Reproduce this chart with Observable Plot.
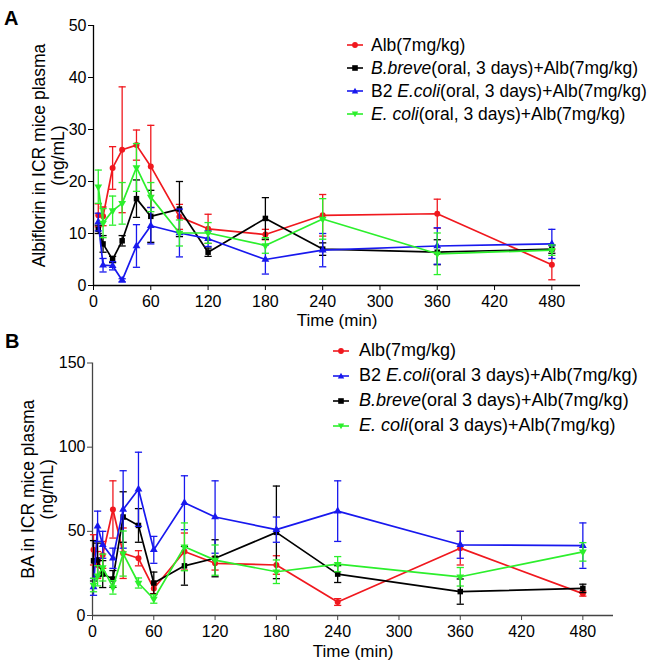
<!DOCTYPE html>
<html><head><meta charset="utf-8">
<script src="https://cdn.jsdelivr.net/npm/d3@7"></script>
<script src="https://cdn.jsdelivr.net/npm/@observablehq/plot@0.6"></script>
<style>
body{margin:0;background:#fff;font-family:"Liberation Sans",Arial,sans-serif;}
#wrap{position:relative;width:650px;height:664px;overflow:hidden;}
.panel{position:absolute;left:0;}
.letter{position:absolute;font-weight:bold;font-size:20px;line-height:1;}
.legend{position:absolute;color:#000;}
.row{display:flex;align-items:center;white-space:nowrap;}
</style></head><body><div id="wrap"></div><script>
// ---------- Data ----------
const xTicks = [0, 60, 120, 180, 240, 300, 360, 420, 480];
const yTicksA = [0, 10, 20, 30, 40, 50];
const yTicksB = [0, 50, 100, 150];

// Panel A: Albiflorin
const timesA = [5, 10, 20, 30, 45, 60, 90, 120, 180, 240, 360, 480];
const albA      = [13.5, 13.3, 22.6, 26.1, 27.0, 22.9, 13.2, 10.9, 9.8, 13.5, 13.8, 4.0];
const albA_sd   = [2.2, 1.8, 4.1, 12.1, 2.9, 7.9, 2.4, 2.8, 1.0, 4.0, 2.8, 2.9];
const breveA    = [10.8, 8.0, 5.0, 8.6, 16.7, 13.3, 14.7, 6.4, 12.9, 7.0, 6.4, 7.0];
const breveA_sd = [0.8, 1.6, 0.6, 1.0, 3.6, 5.0, 5.3, 0.8, 4.0, 1.2, 2.4, 0.8];
const b2A       = [12.2, 3.9, 3.8, 1.0, 7.6, 11.5, 10.1, 9.0, 5.0, 6.8, 7.6, 8.0];
const b2A_sd    = [1.7, 1.3, 0.8, 0.3, 4.1, 3.5, 4.6, 1.5, 2.8, 3.2, 3.5, 2.8];
const ecoliA    = [19.0, 12.0, 14.4, 15.8, 22.7, 17.0, 10.1, 10.1, 7.7, 12.8, 6.1, 6.8];
const ecoliA_sd = [3.2, 2.8, 2.8, 4.0, 4.6, 2.8, 2.5, 2.0, 1.5, 3.9, 4.0, 1.0];

// Panel B: BA
const timesB = [1, 5, 10, 20, 30, 45, 60, 90, 120, 180, 240, 360, 480];
const albB      = [39, 30, 36, 63, 37, 34, 16, 38, 31, 30, 8, 40, 13];
const albB_sd   = [9, 8, 8, 17, 15, 4.5, 3, 11, 4, 5.5, 2, 10, 1.5];
const b2B       = [17, 53, 42, 34, 63, 75, 39, 67, 58.5, 51, 62, 42, 41.5];
const b2B_sd    = [5, 9, 8, 6, 23, 22, 8, 16, 21.5, 7.5, 18, 8, 13.5];
const breveB    = [32.5, 33, 24.6, 21.7, 58.5, 53.5, 19.3, 29.5, 34, 49.4, 24.6, 14.2, 16.1];
const breveB_sd = [12, 10, 8, 5, 15, 10, 6.5, 11.5, 11, 27.5, 5, 7.5, 2.5];
const ecoliB    = [18.1, 23.6, 28.5, 16.7, 36.8, 19.3, 9.8, 40.8, 32.9, 26, 30.5, 23, 37.8];
const ecoliB_sd = [4, 6, 8, 4, 13.4, 3, 2.5, 14.2, 9, 7, 4.5, 5.5, 5.5];

const RED = "#f0181e", BLACK = "#000000", BLUE = "#1818ee", GREEN = "#2cef2c";

// ---------- Helpers ----------
const capSymbol = {draw(ctx) { ctx.moveTo(-3.6, 0); ctx.lineTo(3.6, 0); }};
const FONT = '"Liberation Sans", Arial, sans-serif';

function rowsOf(times, vals, sds) {
  return times.map((t, i) => ({t, v: vals[i], lo: vals[i] - sds[i], hi: vals[i] + sds[i]}));
}

function seriesMarks(s) {
  const rows = rowsOf(s.times, s.vals, s.sds);
  return [
    Plot.ruleX(rows, {x: "t", y1: "lo", y2: "hi", stroke: s.color, strokeWidth: 1.3}),
    Plot.dot(rows, {x: "t", y: "lo", symbol: capSymbol, stroke: s.color, fill: "none", strokeWidth: 1.3}),
    Plot.dot(rows, {x: "t", y: "hi", symbol: capSymbol, stroke: s.color, fill: "none", strokeWidth: 1.3}),
    Plot.line(rows, {x: "t", y: "v", stroke: s.color, strokeWidth: 1.7}),
    Plot.dot(rows, {x: "t", y: "v", symbol: s.symbol, rotate: s.rotate || 0, fill: s.color, stroke: "none", r: s.r})
  ];
}

function makePanel(o) {
  return Plot.plot({
    width: 650, height: o.height,
    marginLeft: o.ml, marginRight: o.mr, marginTop: o.mt, marginBottom: o.mb,
    style: {fontFamily: FONT, fontSize: "16px", color: "#000", background: "transparent", overflow: "visible"},
    x: {domain: [0, 510]},
    y: {domain: o.yDomain},
    marks: [
      Plot.axisX({ticks: xTicks, tickSize: 5, tickPadding: 5, label: null, stroke: o.axisColor, fill: "#000", fontSize: 16}),
      Plot.axisY({ticks: o.yTicks, tickSize: 5, tickPadding: 2, label: null, stroke: o.axisColor, fill: "#000", fontSize: 16}),
      Plot.ruleY([o.yDomain[0]], {stroke: o.axisColor, strokeWidth: 1.3}),
      Plot.ruleX([0], {stroke: o.axisColor, strokeWidth: 1.3}),
      ...o.series.flatMap(seriesMarks),
      Plot.text([o.yLabel], {text: d => d, frameAnchor: "left", dx: o.yLabelDx, rotate: -90, fontSize: 17.5, lineHeight: 1.1, textAnchor: "middle", lineAnchor: "middle", fill: "#000"}),
      Plot.text(["Time (min)"], {text: d => d, frameAnchor: "bottom", dy: o.xLabelDy, fontSize: 17, lineAnchor: "middle", fill: "#000"})
    ]
  });
}

function markerSVG(color, symbol) {
  let shape = "";
  if (symbol === "circle") shape = `<circle cx="8" cy="5" r="2.9" fill="${color}"/>`;
  else if (symbol === "square") shape = `<rect x="5.2" y="2.2" width="5.6" height="5.6" fill="${color}"/>`;
  else if (symbol === "up") shape = `<path d="M8,1.8 L11.2,7.6 L4.8,7.6 Z" fill="${color}"/>`;
  else shape = `<path d="M8,8.2 L11.2,2.4 L4.8,2.4 Z" fill="${color}"/>`;
  return `<svg width="16" height="10" style="flex:none"><line x1="0" y1="5" x2="16" y2="5" stroke="${color}" stroke-width="1.6"/>${shape}</svg>`;
}

function legend(entries, left, top, rowH, gap, fontSize) {
  const d = document.createElement("div");
  d.className = "legend";
  d.style.left = left + "px"; d.style.top = top + "px"; d.style.fontSize = fontSize + "px";
  d.innerHTML = entries.map(e =>
    `<div class="row" style="height:${rowH}px">${markerSVG(e.color, e.shape)}<span style="margin-left:${gap}px">${e.html}</span></div>`
  ).join("");
  return d;
}

const wrap = document.getElementById("wrap");

// ---------- Panel A ----------
const seriesA = [
  {times: timesA, vals: albA, sds: albA_sd, color: RED, symbol: "circle", r: 3},
  {times: timesA, vals: breveA, sds: breveA_sd, color: BLACK, symbol: "square", r: 3.1},
  {times: timesA, vals: b2A, sds: b2A_sd, color: BLUE, symbol: "triangle", r: 2.9},
  {times: timesA, vals: ecoliA, sds: ecoliA_sd, color: GREEN, symbol: "triangle", rotate: 180, r: 2.9}
];
const plotA = makePanel({
  height: 325, ml: 93, mr: 70, mt: 25, mb: 40, yDomain: [0, 50], yTicks: yTicksA,
  axisColor: "#000", series: seriesA,
  yLabel: "Albiflorin in ICR mice plasma\n(ng/mL)", yLabelDx: -45, xLabelDy: 35
});
const pa = document.createElement("div"); pa.className = "panel"; pa.style.top = "0px";
pa.appendChild(plotA); wrap.appendChild(pa);

// ---------- Panel B ----------
const seriesB = [
  {times: timesB, vals: albB, sds: albB_sd, color: RED, symbol: "circle", r: 3},
  {times: timesB, vals: breveB, sds: breveB_sd, color: BLACK, symbol: "square", r: 3.1},
  {times: timesB, vals: b2B, sds: b2B_sd, color: BLUE, symbol: "triangle", r: 2.9},
  {times: timesB, vals: ecoliB, sds: ecoliB_sd, color: GREEN, symbol: "triangle", rotate: 180, r: 2.9}
];
const plotB = makePanel({
  height: 339, ml: 92, mr: 37, mt: 37.5, mb: 49, yDomain: [0, 150], yTicks: yTicksB,
  axisColor: "#444", series: seriesB,
  yLabel: "BA in ICR mice plasma\n(ng/mL)", yLabelDx: -55, xLabelDy: 36
});
const pb = document.createElement("div"); pb.className = "panel"; pb.style.top = "325px";
pb.appendChild(plotB); wrap.appendChild(pb);

// ---------- Panel letters ----------
const la = document.createElement("div"); la.className = "letter"; la.textContent = "A";
la.style.left = "4px"; la.style.top = "8px"; wrap.appendChild(la);
const lb = document.createElement("div"); lb.className = "letter"; lb.textContent = "B";
lb.style.left = "5px"; lb.style.top = "331px"; wrap.appendChild(lb);

// ---------- Legends ----------
wrap.appendChild(legend([
  {color: RED, shape: "circle", html: "Alb(7mg/kg)"},
  {color: BLACK, shape: "square", html: "<i>B.breve</i>(oral, 3 days)+Alb(7mg/kg)"},
  {color: BLUE, shape: "up", html: "B2 <i>E.coli</i>(oral, 3 days)+Alb(7mg/kg)"},
  {color: GREEN, shape: "down", html: "<i>E. coli</i>(oral, 3 days)+Alb(7mg/kg)"}
], 347, 33.5, 23, 8, 17.5));

wrap.appendChild(legend([
  {color: RED, shape: "circle", html: "Alb(7mg/kg)"},
  {color: BLUE, shape: "up", html: "B2 <i>E.coli</i>(oral 3 days)+Alb(7mg/kg)"},
  {color: BLACK, shape: "square", html: "<i>B.breve</i>(oral 3 days)+Alb(7mg/kg)"},
  {color: GREEN, shape: "down", html: "<i>E. coli</i>(oral 3 days)+Alb(7mg/kg)"}
], 333, 338, 25, 10, 18));
</script></body></html>
